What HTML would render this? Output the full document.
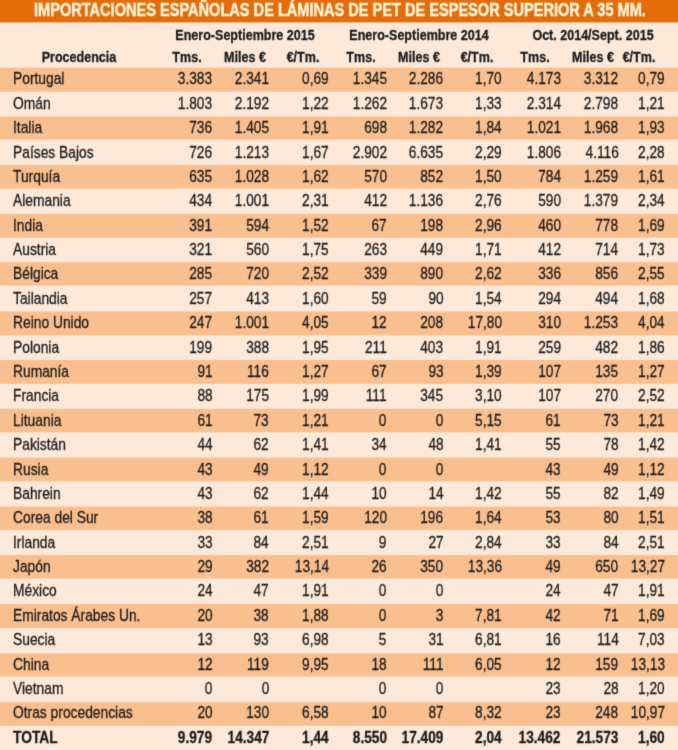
<!DOCTYPE html><html><head><meta charset="utf-8"><style>
html,body{margin:0;padding:0;}
body{width:678px;height:750px;overflow:hidden;background:#FDE9D9;position:relative;font-family:"Liberation Sans",sans-serif;color:#1a1a1a;}
.b{position:absolute;left:-6px;width:690px;}
#w{position:absolute;left:-4px;top:-4px;width:686px;height:758px;filter:url(#fb);background:#FDE9D9;}
#in{position:absolute;left:4px;top:4px;width:678px;height:750px;}
.t{position:absolute;white-space:nowrap;line-height:1;-webkit-text-stroke:0.3px currentColor;}
.r{transform-origin:100% 0;}
.l{transform-origin:0 0;}
.c{transform-origin:50% 0;}
.d{font-size:16.8px;}
.h{font-size:14.8px;font-weight:bold;}
.bd{font-weight:bold;}

</style></head><body><svg width="0" height="0" style="position:absolute"><filter id="fb" x="0" y="0" width="100%" height="100%" filterUnits="objectBoundingBox" color-interpolation-filters="sRGB"><feConvolveMatrix order="3" kernelMatrix="0.0144 0.0912 0.0144 0.0912 0.5776 0.0912 0.0144 0.0912 0.0144" edgeMode="duplicate" preserveAlpha="true"/></filter></svg><div id="w"><div id="in">
<svg width="678" height="750" style="position:absolute;left:0;top:0;overflow:visible"><rect x="-5" y="-5" width="688" height="27.4" fill="#E46C0A"/><rect x="-5" y="67.7" width="688" height="24.00" fill="#FABF8F"/><rect x="-5" y="116.6" width="688" height="23.00" fill="#FABF8F"/><rect x="-5" y="165.0" width="688" height="23.70" fill="#FABF8F"/><rect x="-5" y="214.0" width="688" height="23.80" fill="#FABF8F"/><rect x="-5" y="262.1" width="688" height="23.40" fill="#FABF8F"/><rect x="-5" y="311.4" width="688" height="23.90" fill="#FABF8F"/><rect x="-5" y="360.0" width="688" height="23.80" fill="#FABF8F"/><rect x="-5" y="408.8" width="688" height="23.50" fill="#FABF8F"/><rect x="-5" y="457.6" width="688" height="23.70" fill="#FABF8F"/><rect x="-5" y="506.6" width="688" height="23.50" fill="#FABF8F"/><rect x="-5" y="555.0" width="688" height="23.50" fill="#FABF8F"/><rect x="-5" y="604.1" width="688" height="24.00" fill="#FABF8F"/><rect x="-5" y="653.5" width="688" height="23.20" fill="#FABF8F"/><rect x="-5" y="702.1" width="688" height="23.70" fill="#FABF8F"/></svg>
<div class="t l bd" style="left:33.6px;top:2.00px;font-size:17.6px;color:#FFF3D6;-webkit-text-stroke:0.45px currentColor;transform:translateY(0px) scaleX(0.828)">IMPORTACIONES ESPAÑOLAS DE LÁMINAS DE PET DE ESPESOR SUPERIOR A 35 MM.</div>
<div class="t h c" style="left:44.94999999999999px;width:400px;text-align:center;top:27.57px;transform:scaleX(0.847)">Enero-Septiembre 2015</div>
<div class="t h c" style="left:218.95px;width:400px;text-align:center;top:27.57px;transform:scaleX(0.847)">Enero-Septiembre 2014</div>
<div class="t h c" style="left:392.65px;width:400px;text-align:center;top:27.57px;transform:scaleX(0.847)">Oct. 2014/Sept. 2015</div>
<div class="t h c" style="left:-121.3px;width:400px;text-align:center;top:49.57px;transform:scaleX(0.847)">Procedencia</div>
<div class="t h c" style="left:-12.800000000000011px;width:400px;text-align:center;top:49.57px;transform:scaleX(0.847)">Tms.</div>
<div class="t h c" style="left:45.099999999999994px;width:400px;text-align:center;top:49.57px;transform:scaleX(0.847)">Miles €</div>
<div class="t h c" style="left:102.64999999999998px;width:400px;text-align:center;top:49.57px;transform:scaleX(0.847)">€/Tm.</div>
<div class="t h c" style="left:160.95000000000005px;width:400px;text-align:center;top:49.57px;transform:scaleX(0.847)">Tms.</div>
<div class="t h c" style="left:219.25px;width:400px;text-align:center;top:49.57px;transform:scaleX(0.847)">Miles €</div>
<div class="t h c" style="left:276.75px;width:400px;text-align:center;top:49.57px;transform:scaleX(0.847)">€/Tm.</div>
<div class="t h c" style="left:334.79999999999995px;width:400px;text-align:center;top:49.57px;transform:scaleX(0.847)">Tms.</div>
<div class="t h c" style="left:392.65px;width:400px;text-align:center;top:49.57px;transform:scaleX(0.847)">Miles €</div>
<div class="t h c" style="left:439.0px;width:400px;text-align:center;top:49.57px;transform:scaleX(0.847)">€/Tm.</div>
<div class="t d l" style="left:13.4px;top:71.38px;transform:scaleX(0.823)">Portugal</div>
<div class="t d r" style="right:465.70px;top:71.38px;transform:scaleX(0.814)">3.383</div>
<div class="t d r" style="right:409.00px;top:71.38px;transform:scaleX(0.814)">2.341</div>
<div class="t d r" style="right:349.40px;top:71.38px;transform:scaleX(0.814)">0,69</div>
<div class="t d r" style="right:291.50px;top:71.38px;transform:scaleX(0.814)">1.345</div>
<div class="t d r" style="right:234.60px;top:71.38px;transform:scaleX(0.814)">2.286</div>
<div class="t d r" style="right:176.20px;top:71.38px;transform:scaleX(0.814)">1,70</div>
<div class="t d r" style="right:117.20px;top:71.38px;transform:scaleX(0.814)">4.173</div>
<div class="t d r" style="right:59.60px;top:71.38px;transform:scaleX(0.814)">3.312</div>
<div class="t d r" style="right:13.20px;top:71.38px;transform:scaleX(0.814)">0,79</div>
<div class="t d l" style="left:13.4px;top:95.76px;transform:scaleX(0.823)">Omán</div>
<div class="t d r" style="right:465.70px;top:95.76px;transform:scaleX(0.814)">1.803</div>
<div class="t d r" style="right:409.00px;top:95.76px;transform:scaleX(0.814)">2.192</div>
<div class="t d r" style="right:349.40px;top:95.76px;transform:scaleX(0.814)">1,22</div>
<div class="t d r" style="right:291.50px;top:95.76px;transform:scaleX(0.814)">1.262</div>
<div class="t d r" style="right:234.60px;top:95.76px;transform:scaleX(0.814)">1.673</div>
<div class="t d r" style="right:176.20px;top:95.76px;transform:scaleX(0.814)">1,33</div>
<div class="t d r" style="right:117.20px;top:95.76px;transform:scaleX(0.814)">2.314</div>
<div class="t d r" style="right:59.60px;top:95.76px;transform:scaleX(0.814)">2.798</div>
<div class="t d r" style="right:13.20px;top:95.76px;transform:scaleX(0.814)">1,21</div>
<div class="t d l" style="left:13.4px;top:120.15px;transform:scaleX(0.823)">Italia</div>
<div class="t d r" style="right:465.70px;top:120.15px;transform:scaleX(0.814)">736</div>
<div class="t d r" style="right:409.00px;top:120.15px;transform:scaleX(0.814)">1.405</div>
<div class="t d r" style="right:349.40px;top:120.15px;transform:scaleX(0.814)">1,91</div>
<div class="t d r" style="right:291.50px;top:120.15px;transform:scaleX(0.814)">698</div>
<div class="t d r" style="right:234.60px;top:120.15px;transform:scaleX(0.814)">1.282</div>
<div class="t d r" style="right:176.20px;top:120.15px;transform:scaleX(0.814)">1,84</div>
<div class="t d r" style="right:117.20px;top:120.15px;transform:scaleX(0.814)">1.021</div>
<div class="t d r" style="right:59.60px;top:120.15px;transform:scaleX(0.814)">1.968</div>
<div class="t d r" style="right:13.20px;top:120.15px;transform:scaleX(0.814)">1,93</div>
<div class="t d l" style="left:13.4px;top:144.53px;transform:scaleX(0.823)">Países Bajos</div>
<div class="t d r" style="right:465.70px;top:144.53px;transform:scaleX(0.814)">726</div>
<div class="t d r" style="right:409.00px;top:144.53px;transform:scaleX(0.814)">1.213</div>
<div class="t d r" style="right:349.40px;top:144.53px;transform:scaleX(0.814)">1,67</div>
<div class="t d r" style="right:291.50px;top:144.53px;transform:scaleX(0.814)">2.902</div>
<div class="t d r" style="right:234.60px;top:144.53px;transform:scaleX(0.814)">6.635</div>
<div class="t d r" style="right:176.20px;top:144.53px;transform:scaleX(0.814)">2,29</div>
<div class="t d r" style="right:117.20px;top:144.53px;transform:scaleX(0.814)">1.806</div>
<div class="t d r" style="right:59.60px;top:144.53px;transform:scaleX(0.814)">4.116</div>
<div class="t d r" style="right:13.20px;top:144.53px;transform:scaleX(0.814)">2,28</div>
<div class="t d l" style="left:13.4px;top:168.92px;transform:scaleX(0.823)">Turquía</div>
<div class="t d r" style="right:465.70px;top:168.92px;transform:scaleX(0.814)">635</div>
<div class="t d r" style="right:409.00px;top:168.92px;transform:scaleX(0.814)">1.028</div>
<div class="t d r" style="right:349.40px;top:168.92px;transform:scaleX(0.814)">1,62</div>
<div class="t d r" style="right:291.50px;top:168.92px;transform:scaleX(0.814)">570</div>
<div class="t d r" style="right:234.60px;top:168.92px;transform:scaleX(0.814)">852</div>
<div class="t d r" style="right:176.20px;top:168.92px;transform:scaleX(0.814)">1,50</div>
<div class="t d r" style="right:117.20px;top:168.92px;transform:scaleX(0.814)">784</div>
<div class="t d r" style="right:59.60px;top:168.92px;transform:scaleX(0.814)">1.259</div>
<div class="t d r" style="right:13.20px;top:168.92px;transform:scaleX(0.814)">1,61</div>
<div class="t d l" style="left:13.4px;top:193.30px;transform:scaleX(0.823)">Alemania</div>
<div class="t d r" style="right:465.70px;top:193.30px;transform:scaleX(0.814)">434</div>
<div class="t d r" style="right:409.00px;top:193.30px;transform:scaleX(0.814)">1.001</div>
<div class="t d r" style="right:349.40px;top:193.30px;transform:scaleX(0.814)">2,31</div>
<div class="t d r" style="right:291.50px;top:193.30px;transform:scaleX(0.814)">412</div>
<div class="t d r" style="right:234.60px;top:193.30px;transform:scaleX(0.814)">1.136</div>
<div class="t d r" style="right:176.20px;top:193.30px;transform:scaleX(0.814)">2,76</div>
<div class="t d r" style="right:117.20px;top:193.30px;transform:scaleX(0.814)">590</div>
<div class="t d r" style="right:59.60px;top:193.30px;transform:scaleX(0.814)">1.379</div>
<div class="t d r" style="right:13.20px;top:193.30px;transform:scaleX(0.814)">2,34</div>
<div class="t d l" style="left:13.4px;top:217.69px;transform:scaleX(0.823)">India</div>
<div class="t d r" style="right:465.70px;top:217.69px;transform:scaleX(0.814)">391</div>
<div class="t d r" style="right:409.00px;top:217.69px;transform:scaleX(0.814)">594</div>
<div class="t d r" style="right:349.40px;top:217.69px;transform:scaleX(0.814)">1,52</div>
<div class="t d r" style="right:291.50px;top:217.69px;transform:scaleX(0.814)">67</div>
<div class="t d r" style="right:234.60px;top:217.69px;transform:scaleX(0.814)">198</div>
<div class="t d r" style="right:176.20px;top:217.69px;transform:scaleX(0.814)">2,96</div>
<div class="t d r" style="right:117.20px;top:217.69px;transform:scaleX(0.814)">460</div>
<div class="t d r" style="right:59.60px;top:217.69px;transform:scaleX(0.814)">778</div>
<div class="t d r" style="right:13.20px;top:217.69px;transform:scaleX(0.814)">1,69</div>
<div class="t d l" style="left:13.4px;top:242.07px;transform:scaleX(0.823)">Austria</div>
<div class="t d r" style="right:465.70px;top:242.07px;transform:scaleX(0.814)">321</div>
<div class="t d r" style="right:409.00px;top:242.07px;transform:scaleX(0.814)">560</div>
<div class="t d r" style="right:349.40px;top:242.07px;transform:scaleX(0.814)">1,75</div>
<div class="t d r" style="right:291.50px;top:242.07px;transform:scaleX(0.814)">263</div>
<div class="t d r" style="right:234.60px;top:242.07px;transform:scaleX(0.814)">449</div>
<div class="t d r" style="right:176.20px;top:242.07px;transform:scaleX(0.814)">1,71</div>
<div class="t d r" style="right:117.20px;top:242.07px;transform:scaleX(0.814)">412</div>
<div class="t d r" style="right:59.60px;top:242.07px;transform:scaleX(0.814)">714</div>
<div class="t d r" style="right:13.20px;top:242.07px;transform:scaleX(0.814)">1,73</div>
<div class="t d l" style="left:13.4px;top:266.46px;transform:scaleX(0.823)">Bélgica</div>
<div class="t d r" style="right:465.70px;top:266.46px;transform:scaleX(0.814)">285</div>
<div class="t d r" style="right:409.00px;top:266.46px;transform:scaleX(0.814)">720</div>
<div class="t d r" style="right:349.40px;top:266.46px;transform:scaleX(0.814)">2,52</div>
<div class="t d r" style="right:291.50px;top:266.46px;transform:scaleX(0.814)">339</div>
<div class="t d r" style="right:234.60px;top:266.46px;transform:scaleX(0.814)">890</div>
<div class="t d r" style="right:176.20px;top:266.46px;transform:scaleX(0.814)">2,62</div>
<div class="t d r" style="right:117.20px;top:266.46px;transform:scaleX(0.814)">336</div>
<div class="t d r" style="right:59.60px;top:266.46px;transform:scaleX(0.814)">856</div>
<div class="t d r" style="right:13.20px;top:266.46px;transform:scaleX(0.814)">2,55</div>
<div class="t d l" style="left:13.4px;top:290.84px;transform:scaleX(0.823)">Tailandia</div>
<div class="t d r" style="right:465.70px;top:290.84px;transform:scaleX(0.814)">257</div>
<div class="t d r" style="right:409.00px;top:290.84px;transform:scaleX(0.814)">413</div>
<div class="t d r" style="right:349.40px;top:290.84px;transform:scaleX(0.814)">1,60</div>
<div class="t d r" style="right:291.50px;top:290.84px;transform:scaleX(0.814)">59</div>
<div class="t d r" style="right:234.60px;top:290.84px;transform:scaleX(0.814)">90</div>
<div class="t d r" style="right:176.20px;top:290.84px;transform:scaleX(0.814)">1,54</div>
<div class="t d r" style="right:117.20px;top:290.84px;transform:scaleX(0.814)">294</div>
<div class="t d r" style="right:59.60px;top:290.84px;transform:scaleX(0.814)">494</div>
<div class="t d r" style="right:13.20px;top:290.84px;transform:scaleX(0.814)">1,68</div>
<div class="t d l" style="left:13.4px;top:315.23px;transform:scaleX(0.823)">Reino Unido</div>
<div class="t d r" style="right:465.70px;top:315.23px;transform:scaleX(0.814)">247</div>
<div class="t d r" style="right:409.00px;top:315.23px;transform:scaleX(0.814)">1.001</div>
<div class="t d r" style="right:349.40px;top:315.23px;transform:scaleX(0.814)">4,05</div>
<div class="t d r" style="right:291.50px;top:315.23px;transform:scaleX(0.814)">12</div>
<div class="t d r" style="right:234.60px;top:315.23px;transform:scaleX(0.814)">208</div>
<div class="t d r" style="right:176.20px;top:315.23px;transform:scaleX(0.814)">17,80</div>
<div class="t d r" style="right:117.20px;top:315.23px;transform:scaleX(0.814)">310</div>
<div class="t d r" style="right:59.60px;top:315.23px;transform:scaleX(0.814)">1.253</div>
<div class="t d r" style="right:13.20px;top:315.23px;transform:scaleX(0.814)">4,04</div>
<div class="t d l" style="left:13.4px;top:339.61px;transform:scaleX(0.823)">Polonia</div>
<div class="t d r" style="right:465.70px;top:339.61px;transform:scaleX(0.814)">199</div>
<div class="t d r" style="right:409.00px;top:339.61px;transform:scaleX(0.814)">388</div>
<div class="t d r" style="right:349.40px;top:339.61px;transform:scaleX(0.814)">1,95</div>
<div class="t d r" style="right:291.50px;top:339.61px;transform:scaleX(0.814)">211</div>
<div class="t d r" style="right:234.60px;top:339.61px;transform:scaleX(0.814)">403</div>
<div class="t d r" style="right:176.20px;top:339.61px;transform:scaleX(0.814)">1,91</div>
<div class="t d r" style="right:117.20px;top:339.61px;transform:scaleX(0.814)">259</div>
<div class="t d r" style="right:59.60px;top:339.61px;transform:scaleX(0.814)">482</div>
<div class="t d r" style="right:13.20px;top:339.61px;transform:scaleX(0.814)">1,86</div>
<div class="t d l" style="left:13.4px;top:364.00px;transform:scaleX(0.823)">Rumanía</div>
<div class="t d r" style="right:465.70px;top:364.00px;transform:scaleX(0.814)">91</div>
<div class="t d r" style="right:409.00px;top:364.00px;transform:scaleX(0.814)">116</div>
<div class="t d r" style="right:349.40px;top:364.00px;transform:scaleX(0.814)">1,27</div>
<div class="t d r" style="right:291.50px;top:364.00px;transform:scaleX(0.814)">67</div>
<div class="t d r" style="right:234.60px;top:364.00px;transform:scaleX(0.814)">93</div>
<div class="t d r" style="right:176.20px;top:364.00px;transform:scaleX(0.814)">1,39</div>
<div class="t d r" style="right:117.20px;top:364.00px;transform:scaleX(0.814)">107</div>
<div class="t d r" style="right:59.60px;top:364.00px;transform:scaleX(0.814)">135</div>
<div class="t d r" style="right:13.20px;top:364.00px;transform:scaleX(0.814)">1,27</div>
<div class="t d l" style="left:13.4px;top:388.38px;transform:scaleX(0.823)">Francia</div>
<div class="t d r" style="right:465.70px;top:388.38px;transform:scaleX(0.814)">88</div>
<div class="t d r" style="right:409.00px;top:388.38px;transform:scaleX(0.814)">175</div>
<div class="t d r" style="right:349.40px;top:388.38px;transform:scaleX(0.814)">1,99</div>
<div class="t d r" style="right:291.50px;top:388.38px;transform:scaleX(0.814)">111</div>
<div class="t d r" style="right:234.60px;top:388.38px;transform:scaleX(0.814)">345</div>
<div class="t d r" style="right:176.20px;top:388.38px;transform:scaleX(0.814)">3,10</div>
<div class="t d r" style="right:117.20px;top:388.38px;transform:scaleX(0.814)">107</div>
<div class="t d r" style="right:59.60px;top:388.38px;transform:scaleX(0.814)">270</div>
<div class="t d r" style="right:13.20px;top:388.38px;transform:scaleX(0.814)">2,52</div>
<div class="t d l" style="left:13.4px;top:412.77px;transform:scaleX(0.823)">Lituania</div>
<div class="t d r" style="right:465.70px;top:412.77px;transform:scaleX(0.814)">61</div>
<div class="t d r" style="right:409.00px;top:412.77px;transform:scaleX(0.814)">73</div>
<div class="t d r" style="right:349.40px;top:412.77px;transform:scaleX(0.814)">1,21</div>
<div class="t d r" style="right:291.50px;top:412.77px;transform:scaleX(0.814)">0</div>
<div class="t d r" style="right:234.60px;top:412.77px;transform:scaleX(0.814)">0</div>
<div class="t d r" style="right:176.20px;top:412.77px;transform:scaleX(0.814)">5,15</div>
<div class="t d r" style="right:117.20px;top:412.77px;transform:scaleX(0.814)">61</div>
<div class="t d r" style="right:59.60px;top:412.77px;transform:scaleX(0.814)">73</div>
<div class="t d r" style="right:13.20px;top:412.77px;transform:scaleX(0.814)">1,21</div>
<div class="t d l" style="left:13.4px;top:437.15px;transform:scaleX(0.823)">Pakistán</div>
<div class="t d r" style="right:465.70px;top:437.15px;transform:scaleX(0.814)">44</div>
<div class="t d r" style="right:409.00px;top:437.15px;transform:scaleX(0.814)">62</div>
<div class="t d r" style="right:349.40px;top:437.15px;transform:scaleX(0.814)">1,41</div>
<div class="t d r" style="right:291.50px;top:437.15px;transform:scaleX(0.814)">34</div>
<div class="t d r" style="right:234.60px;top:437.15px;transform:scaleX(0.814)">48</div>
<div class="t d r" style="right:176.20px;top:437.15px;transform:scaleX(0.814)">1,41</div>
<div class="t d r" style="right:117.20px;top:437.15px;transform:scaleX(0.814)">55</div>
<div class="t d r" style="right:59.60px;top:437.15px;transform:scaleX(0.814)">78</div>
<div class="t d r" style="right:13.20px;top:437.15px;transform:scaleX(0.814)">1,42</div>
<div class="t d l" style="left:13.4px;top:461.54px;transform:scaleX(0.823)">Rusia</div>
<div class="t d r" style="right:465.70px;top:461.54px;transform:scaleX(0.814)">43</div>
<div class="t d r" style="right:409.00px;top:461.54px;transform:scaleX(0.814)">49</div>
<div class="t d r" style="right:349.40px;top:461.54px;transform:scaleX(0.814)">1,12</div>
<div class="t d r" style="right:291.50px;top:461.54px;transform:scaleX(0.814)">0</div>
<div class="t d r" style="right:234.60px;top:461.54px;transform:scaleX(0.814)">0</div>
<div class="t d r" style="right:117.20px;top:461.54px;transform:scaleX(0.814)">43</div>
<div class="t d r" style="right:59.60px;top:461.54px;transform:scaleX(0.814)">49</div>
<div class="t d r" style="right:13.20px;top:461.54px;transform:scaleX(0.814)">1,12</div>
<div class="t d l" style="left:13.4px;top:485.92px;transform:scaleX(0.823)">Bahrein</div>
<div class="t d r" style="right:465.70px;top:485.92px;transform:scaleX(0.814)">43</div>
<div class="t d r" style="right:409.00px;top:485.92px;transform:scaleX(0.814)">62</div>
<div class="t d r" style="right:349.40px;top:485.92px;transform:scaleX(0.814)">1,44</div>
<div class="t d r" style="right:291.50px;top:485.92px;transform:scaleX(0.814)">10</div>
<div class="t d r" style="right:234.60px;top:485.92px;transform:scaleX(0.814)">14</div>
<div class="t d r" style="right:176.20px;top:485.92px;transform:scaleX(0.814)">1,42</div>
<div class="t d r" style="right:117.20px;top:485.92px;transform:scaleX(0.814)">55</div>
<div class="t d r" style="right:59.60px;top:485.92px;transform:scaleX(0.814)">82</div>
<div class="t d r" style="right:13.20px;top:485.92px;transform:scaleX(0.814)">1,49</div>
<div class="t d l" style="left:13.4px;top:510.31px;transform:scaleX(0.823)">Corea del Sur</div>
<div class="t d r" style="right:465.70px;top:510.31px;transform:scaleX(0.814)">38</div>
<div class="t d r" style="right:409.00px;top:510.31px;transform:scaleX(0.814)">61</div>
<div class="t d r" style="right:349.40px;top:510.31px;transform:scaleX(0.814)">1,59</div>
<div class="t d r" style="right:291.50px;top:510.31px;transform:scaleX(0.814)">120</div>
<div class="t d r" style="right:234.60px;top:510.31px;transform:scaleX(0.814)">196</div>
<div class="t d r" style="right:176.20px;top:510.31px;transform:scaleX(0.814)">1,64</div>
<div class="t d r" style="right:117.20px;top:510.31px;transform:scaleX(0.814)">53</div>
<div class="t d r" style="right:59.60px;top:510.31px;transform:scaleX(0.814)">80</div>
<div class="t d r" style="right:13.20px;top:510.31px;transform:scaleX(0.814)">1,51</div>
<div class="t d l" style="left:13.4px;top:534.69px;transform:scaleX(0.823)">Irlanda</div>
<div class="t d r" style="right:465.70px;top:534.69px;transform:scaleX(0.814)">33</div>
<div class="t d r" style="right:409.00px;top:534.69px;transform:scaleX(0.814)">84</div>
<div class="t d r" style="right:349.40px;top:534.69px;transform:scaleX(0.814)">2,51</div>
<div class="t d r" style="right:291.50px;top:534.69px;transform:scaleX(0.814)">9</div>
<div class="t d r" style="right:234.60px;top:534.69px;transform:scaleX(0.814)">27</div>
<div class="t d r" style="right:176.20px;top:534.69px;transform:scaleX(0.814)">2,84</div>
<div class="t d r" style="right:117.20px;top:534.69px;transform:scaleX(0.814)">33</div>
<div class="t d r" style="right:59.60px;top:534.69px;transform:scaleX(0.814)">84</div>
<div class="t d r" style="right:13.20px;top:534.69px;transform:scaleX(0.814)">2,51</div>
<div class="t d l" style="left:13.4px;top:559.08px;transform:scaleX(0.823)">Japón</div>
<div class="t d r" style="right:465.70px;top:559.08px;transform:scaleX(0.814)">29</div>
<div class="t d r" style="right:409.00px;top:559.08px;transform:scaleX(0.814)">382</div>
<div class="t d r" style="right:349.40px;top:559.08px;transform:scaleX(0.814)">13,14</div>
<div class="t d r" style="right:291.50px;top:559.08px;transform:scaleX(0.814)">26</div>
<div class="t d r" style="right:234.60px;top:559.08px;transform:scaleX(0.814)">350</div>
<div class="t d r" style="right:176.20px;top:559.08px;transform:scaleX(0.814)">13,36</div>
<div class="t d r" style="right:117.20px;top:559.08px;transform:scaleX(0.814)">49</div>
<div class="t d r" style="right:59.60px;top:559.08px;transform:scaleX(0.814)">650</div>
<div class="t d r" style="right:13.20px;top:559.08px;transform:scaleX(0.814)">13,27</div>
<div class="t d l" style="left:13.4px;top:583.46px;transform:scaleX(0.823)">México</div>
<div class="t d r" style="right:465.70px;top:583.46px;transform:scaleX(0.814)">24</div>
<div class="t d r" style="right:409.00px;top:583.46px;transform:scaleX(0.814)">47</div>
<div class="t d r" style="right:349.40px;top:583.46px;transform:scaleX(0.814)">1,91</div>
<div class="t d r" style="right:291.50px;top:583.46px;transform:scaleX(0.814)">0</div>
<div class="t d r" style="right:234.60px;top:583.46px;transform:scaleX(0.814)">0</div>
<div class="t d r" style="right:117.20px;top:583.46px;transform:scaleX(0.814)">24</div>
<div class="t d r" style="right:59.60px;top:583.46px;transform:scaleX(0.814)">47</div>
<div class="t d r" style="right:13.20px;top:583.46px;transform:scaleX(0.814)">1,91</div>
<div class="t d l" style="left:13.4px;top:607.85px;transform:scaleX(0.823)">Emiratos Árabes Un.</div>
<div class="t d r" style="right:465.70px;top:607.85px;transform:scaleX(0.814)">20</div>
<div class="t d r" style="right:409.00px;top:607.85px;transform:scaleX(0.814)">38</div>
<div class="t d r" style="right:349.40px;top:607.85px;transform:scaleX(0.814)">1,88</div>
<div class="t d r" style="right:291.50px;top:607.85px;transform:scaleX(0.814)">0</div>
<div class="t d r" style="right:234.60px;top:607.85px;transform:scaleX(0.814)">3</div>
<div class="t d r" style="right:176.20px;top:607.85px;transform:scaleX(0.814)">7,81</div>
<div class="t d r" style="right:117.20px;top:607.85px;transform:scaleX(0.814)">42</div>
<div class="t d r" style="right:59.60px;top:607.85px;transform:scaleX(0.814)">71</div>
<div class="t d r" style="right:13.20px;top:607.85px;transform:scaleX(0.814)">1,69</div>
<div class="t d l" style="left:13.4px;top:632.23px;transform:scaleX(0.823)">Suecia</div>
<div class="t d r" style="right:465.70px;top:632.23px;transform:scaleX(0.814)">13</div>
<div class="t d r" style="right:409.00px;top:632.23px;transform:scaleX(0.814)">93</div>
<div class="t d r" style="right:349.40px;top:632.23px;transform:scaleX(0.814)">6,98</div>
<div class="t d r" style="right:291.50px;top:632.23px;transform:scaleX(0.814)">5</div>
<div class="t d r" style="right:234.60px;top:632.23px;transform:scaleX(0.814)">31</div>
<div class="t d r" style="right:176.20px;top:632.23px;transform:scaleX(0.814)">6,81</div>
<div class="t d r" style="right:117.20px;top:632.23px;transform:scaleX(0.814)">16</div>
<div class="t d r" style="right:59.60px;top:632.23px;transform:scaleX(0.814)">114</div>
<div class="t d r" style="right:13.20px;top:632.23px;transform:scaleX(0.814)">7,03</div>
<div class="t d l" style="left:13.4px;top:656.62px;transform:scaleX(0.823)">China</div>
<div class="t d r" style="right:465.70px;top:656.62px;transform:scaleX(0.814)">12</div>
<div class="t d r" style="right:409.00px;top:656.62px;transform:scaleX(0.814)">119</div>
<div class="t d r" style="right:349.40px;top:656.62px;transform:scaleX(0.814)">9,95</div>
<div class="t d r" style="right:291.50px;top:656.62px;transform:scaleX(0.814)">18</div>
<div class="t d r" style="right:234.60px;top:656.62px;transform:scaleX(0.814)">111</div>
<div class="t d r" style="right:176.20px;top:656.62px;transform:scaleX(0.814)">6,05</div>
<div class="t d r" style="right:117.20px;top:656.62px;transform:scaleX(0.814)">12</div>
<div class="t d r" style="right:59.60px;top:656.62px;transform:scaleX(0.814)">159</div>
<div class="t d r" style="right:13.20px;top:656.62px;transform:scaleX(0.814)">13,13</div>
<div class="t d l" style="left:13.4px;top:681.00px;transform:scaleX(0.823)">Vietnam</div>
<div class="t d r" style="right:465.70px;top:681.00px;transform:scaleX(0.814)">0</div>
<div class="t d r" style="right:409.00px;top:681.00px;transform:scaleX(0.814)">0</div>
<div class="t d r" style="right:291.50px;top:681.00px;transform:scaleX(0.814)">0</div>
<div class="t d r" style="right:234.60px;top:681.00px;transform:scaleX(0.814)">0</div>
<div class="t d r" style="right:117.20px;top:681.00px;transform:scaleX(0.814)">23</div>
<div class="t d r" style="right:59.60px;top:681.00px;transform:scaleX(0.814)">28</div>
<div class="t d r" style="right:13.20px;top:681.00px;transform:scaleX(0.814)">1,20</div>
<div class="t d l" style="left:13.4px;top:705.39px;transform:scaleX(0.823)">Otras procedencias</div>
<div class="t d r" style="right:465.70px;top:705.39px;transform:scaleX(0.814)">20</div>
<div class="t d r" style="right:409.00px;top:705.39px;transform:scaleX(0.814)">130</div>
<div class="t d r" style="right:349.40px;top:705.39px;transform:scaleX(0.814)">6,58</div>
<div class="t d r" style="right:291.50px;top:705.39px;transform:scaleX(0.814)">10</div>
<div class="t d r" style="right:234.60px;top:705.39px;transform:scaleX(0.814)">87</div>
<div class="t d r" style="right:176.20px;top:705.39px;transform:scaleX(0.814)">8,32</div>
<div class="t d r" style="right:117.20px;top:705.39px;transform:scaleX(0.814)">23</div>
<div class="t d r" style="right:59.60px;top:705.39px;transform:scaleX(0.814)">248</div>
<div class="t d r" style="right:13.20px;top:705.39px;transform:scaleX(0.814)">10,97</div>
<div class="t d l bd" style="left:13.4px;top:729.77px;transform:scaleX(0.823)">TOTAL</div>
<div class="t d r bd" style="right:465.70px;top:729.77px;transform:scaleX(0.814)">9.979</div>
<div class="t d r bd" style="right:409.00px;top:729.77px;transform:scaleX(0.814)">14.347</div>
<div class="t d r bd" style="right:349.40px;top:729.77px;transform:scaleX(0.814)">1,44</div>
<div class="t d r bd" style="right:291.50px;top:729.77px;transform:scaleX(0.814)">8.550</div>
<div class="t d r bd" style="right:234.60px;top:729.77px;transform:scaleX(0.814)">17.409</div>
<div class="t d r bd" style="right:176.20px;top:729.77px;transform:scaleX(0.814)">2,04</div>
<div class="t d r bd" style="right:117.20px;top:729.77px;transform:scaleX(0.814)">13.462</div>
<div class="t d r bd" style="right:59.60px;top:729.77px;transform:scaleX(0.814)">21.573</div>
<div class="t d r bd" style="right:13.20px;top:729.77px;transform:scaleX(0.814)">1,60</div>
</div></div></body></html>
